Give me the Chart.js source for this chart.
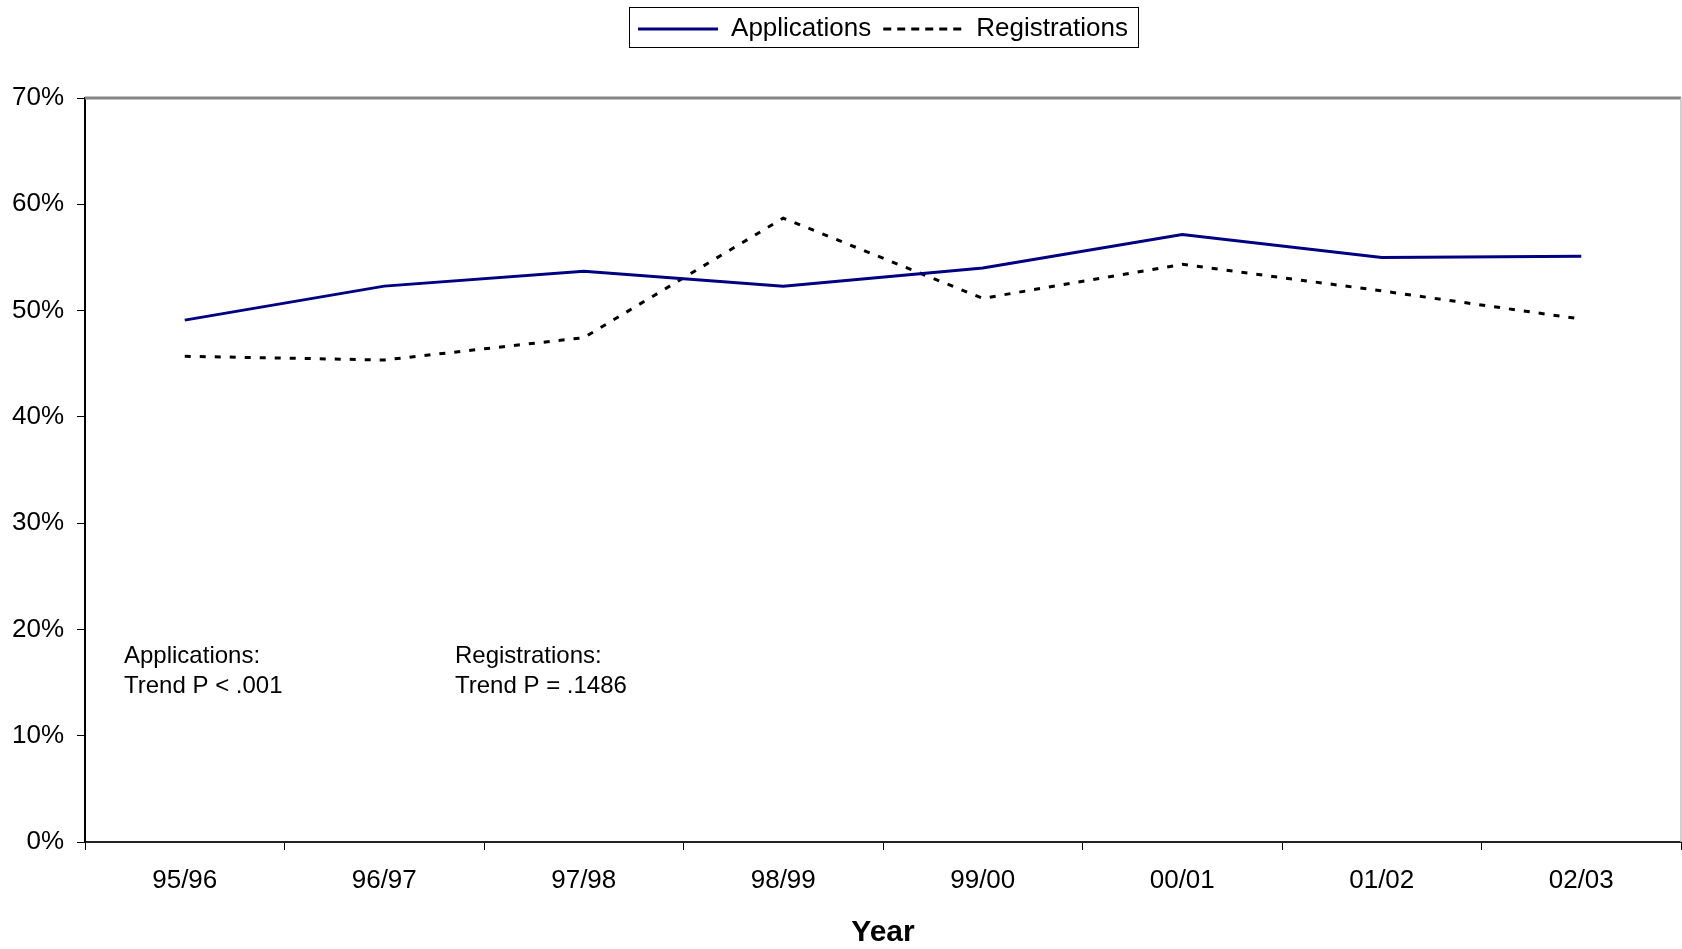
<!DOCTYPE html>
<html>
<head>
<meta charset="utf-8">
<script src="https://cdn.jsdelivr.net/npm/chart.js@4/dist/chart.umd.min.js"></script>
<style>
  body { margin: 0; background: #fff; }
  #wrap { width: 1682px; height: 949px; position: relative; }
</style>
</head>
<body>
<div id="wrap"><canvas id="chart"></canvas></div>
<script>
const years = ["95/96", "96/97", "97/98", "98/99", "99/00", "00/01", "01/02", "02/03"];
const applications = [49.1, 52.3, 53.7, 52.3, 54.0, 57.15, 55.0, 55.1];
const registrations = [45.7, 45.35, 47.45, 58.7, 51.15, 54.35, 51.85, 49.2];
const yTicks = [0, 10, 20, 30, 40, 50, 60, 70];
const trendNotes = [
  ["Applications:", "Trend P < .001"],
  ["Registrations:", "Trend P = .1486"]
];

const FONT = "'Liberation Sans', Arial, sans-serif";

// keeps the legend on top and pushes the plot area down to where the original sits
const legendFrame = {
  id: 'legendFrame',
  beforeLayout(chart) {
    const legend = chart.legend;
    if (legend && !legend._patched) {
      const fit = legend.fit;
      legend.fit = function () {
        fit.call(this);
        this.height = 94;
      };
      legend._patched = true;
    }
  },
  afterDraw(chart) {
    const boxes = chart.legend && chart.legend.legendHitBoxes;
    if (!boxes || !boxes.length) return;
    const left = boxes[0].left - 9;
    const last = boxes[boxes.length - 1];
    const right = last.left + last.width + 10;
    const mid = boxes[0].top + boxes[0].height / 2;
    const ctx = chart.ctx;
    ctx.save();
    ctx.strokeStyle = '#000';
    ctx.lineWidth = 1;
    ctx.strokeRect(Math.round(left) + 0.5, Math.round(mid - 22) + 0.5, Math.round(right - left), 40);
    ctx.restore();
  }
};

// gray frame on top and right side of the plot area
const plotFrame = {
  id: 'plotFrame',
  beforeDatasetsDraw(chart) {
    const a = chart.chartArea;
    const ctx = chart.ctx;
    ctx.save();
    ctx.strokeStyle = '#858585';
    ctx.lineWidth = 3;
    ctx.beginPath();
    ctx.moveTo(a.left, a.top);
    ctx.lineTo(a.right, a.top);
    ctx.stroke();
    ctx.strokeStyle = '#c0c0c0';
    ctx.lineWidth = 1.5;
    ctx.beginPath();
    ctx.moveTo(a.right, a.top);
    ctx.lineTo(a.right, a.bottom);
    ctx.stroke();
    ctx.restore();
  }
};

const trendText = {
  id: 'trendText',
  afterDatasetsDraw(chart) {
    const a = chart.chartArea;
    const ctx = chart.ctx;
    const xs = [a.left + 39, a.left + 370];
    ctx.save();
    ctx.fillStyle = '#000';
    ctx.font = '24px ' + FONT;
    ctx.textAlign = 'left';
    ctx.textBaseline = 'middle';
    trendNotes.forEach((lines, i) => {
      lines.forEach((t, j) => ctx.fillText(t, xs[i], a.top + 558 + j * 30));
    });
    ctx.restore();
  }
};

new Chart(document.getElementById('chart'), {
  type: 'line',
  data: {
    labels: years,
    datasets: [
      {
        label: 'Applications',
        data: applications,
        borderColor: '#000080',
        backgroundColor: '#000080',
        borderWidth: 3,
        pointRadius: 0,
        tension: 0
      },
      {
        label: 'Registrations',
        data: registrations,
        borderColor: '#000',
        backgroundColor: '#000',
        borderWidth: 3,
        borderDash: [6, 9],
        pointRadius: 0,
        tension: 0
      }
    ]
  },
  options: {
    responsive: true,
    maintainAspectRatio: false,
    animation: false,
    layout: { padding: { left: 0, right: 1, top: 4, bottom: 0 } },
    plugins: {
      legend: {
        position: 'top',
        fullSize: false,
        labels: {
          usePointStyle: true,
          pointStyle: 'line',
          pointStyleWidth: 80,
          padding: 12,
          color: '#000',
          font: { family: FONT, size: 26 },
          generateLabels(chart) {
            const items = Chart.defaults.plugins.legend.labels.generateLabels(chart);
            items.forEach(item => {
              const ds = chart.data.datasets[item.datasetIndex];
              item.lineDash = ds.borderDash ? [8, 6] : [];
              item.lineWidth = 3;
              item.strokeStyle = ds.borderColor;
            });
            return items;
          }
        }
      },
      tooltip: { enabled: false }
    },
    scales: {
      x: {
        offset: true,
        afterFit(scale) { scale.height = 107; },
        grid: {
          offset: true,
          drawOnChartArea: false,
          drawTicks: true,
          tickLength: 8,
          tickColor: '#000',
          tickWidth: 1
        },
        border: { color: '#222', width: 2 },
        ticks: {
          color: '#000',
          padding: 15,
          maxRotation: 0,
          font: { family: FONT, size: 26 }
        },
        title: {
          display: true,
          text: 'Year',
          color: '#000',
          padding: { top: 0, bottom: -2 },
          font: { family: FONT, size: 30, weight: 'bold' }
        }
      },
      y: {
        min: 0,
        max: 70,
        afterFit(scale) { scale.width = 85; },
        afterBuildTicks(scale) { scale.ticks = yTicks.map(v => ({ value: v })); },
        grid: {
          drawOnChartArea: false,
          drawTicks: true,
          tickLength: 8,
          tickColor: '#000',
          tickWidth: 1
        },
        border: { color: '#000', width: 2 },
        ticks: {
          color: '#000',
          padding: 13,
          font: { family: FONT, size: 26 },
          callback: v => v + '%'
        }
      }
    }
  },
  plugins: [legendFrame, plotFrame, trendText]
});
</script>
</body>
</html>
